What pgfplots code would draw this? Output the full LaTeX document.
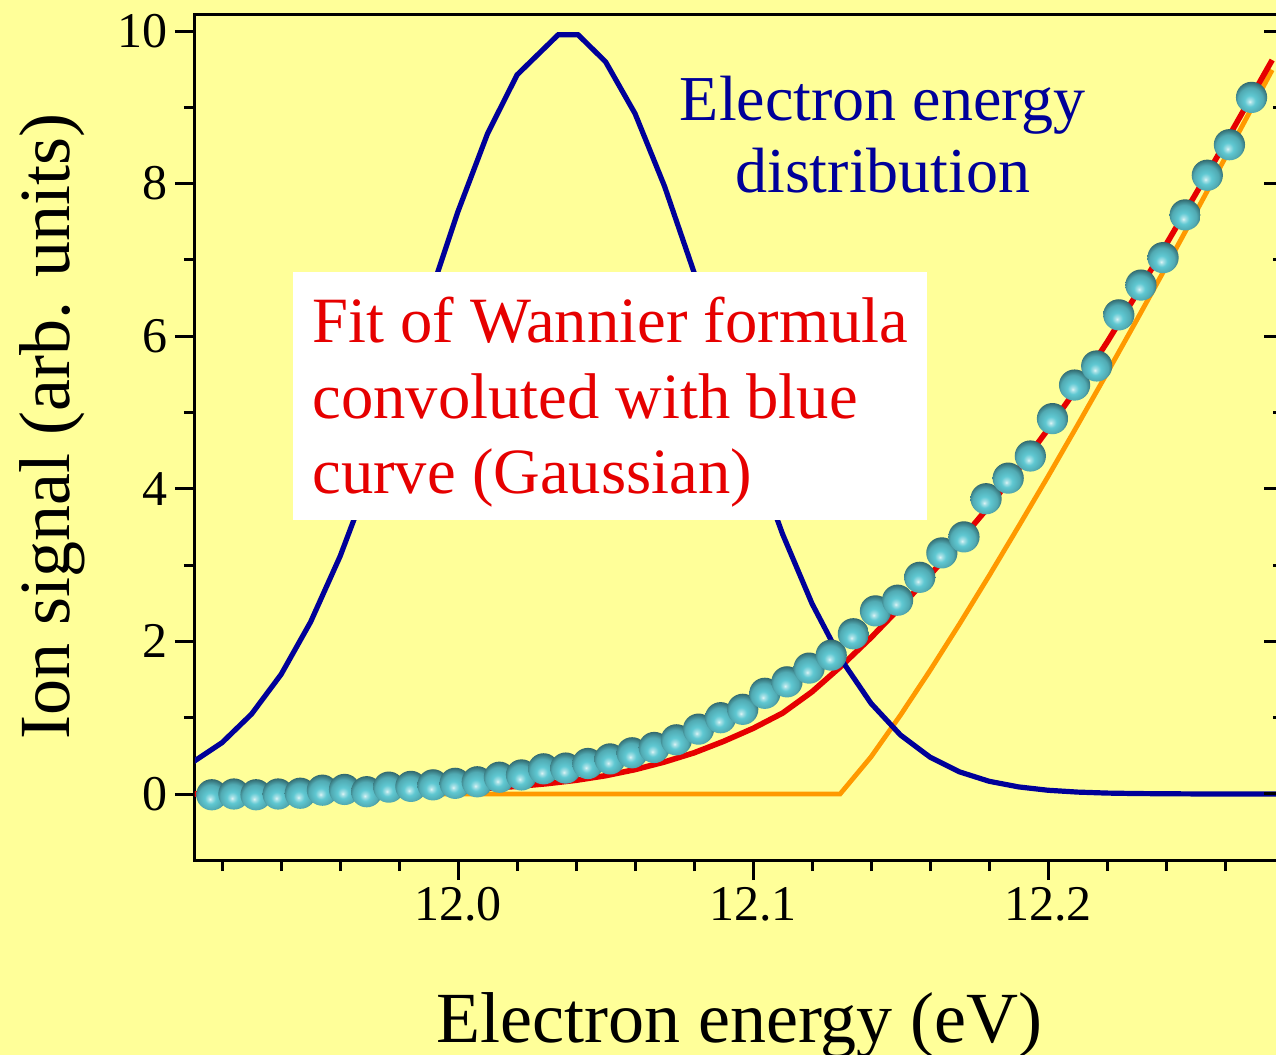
\documentclass[border=0pt]{standalone}
\usepackage{pgfplots}
\usepackage{pgfplotstable}
\pgfplotsset{compat=1.18}
\usepackage{fontspec}
\setmainfont{Liberation Serif}
\definecolor{bgc}{RGB}{255,255,153}
\definecolor{bluec}{RGB}{0,0,153}
\definecolor{redc}{RGB}{230,0,0}
\definecolor{orangec}{RGB}{255,153,0}
\definecolor{ballc}{RGB}{95,200,210}
\pagecolor{bgc}
\makeatletter
\pgfdeclareradialshading[tikz@ball]{ball}{\pgfqpoint{-3bp}{-7bp}}{%
 color(0bp)=(tikz@ball!20!white);
 color(3bp)=(tikz@ball!55!white);
 color(9bp)=(tikz@ball);
 color(20bp)=(tikz@ball!85!black);
 color(30bp)=(tikz@ball!45!black);
 color(50bp)=(tikz@ball!30!black)}
\makeatother

\pgfplotstableread{
x y
11.91 0.416
11.92 0.674
11.93 1.049
11.94 1.568
11.95 2.255
11.96 3.116
11.97 4.138
11.98 5.282
11.99 6.480
12.00 7.639
12.01 8.657
12.02 9.426
12.0339 9.95
12.0407 9.95
12.05 9.597
12.06 8.917
12.07 7.964
12.08 6.836
12.09 5.639
12.10 4.471
12.11 3.407
12.12 2.494
12.13 1.756
12.14 1.188
12.15 0.772
12.16 0.483
12.17 0.290
12.18 0.167
12.19 0.093
12.20 0.049
12.21 0.025
12.22 0.012
12.23 0.006
12.24 0.003
12.25 0.001
12.26 0.000
12.27 0.000
12.28 0.000
}\bluedata

\pgfplotstableread{
x y
11.91 0
12.1295 0
12.14 0.487
12.15 1.035
12.16 1.619
12.17 2.229
12.18 2.859
12.19 3.506
12.20 4.162
12.21 4.834
12.22 5.516
12.23 6.207
12.24 6.908
12.25 7.617
12.26 8.334
12.27 9.056
12.276 9.49
}\orangedata

\pgfplotstableread{
x y
11.91 0.00
11.93 0.005
11.95 0.01
11.97 0.02
11.99 0.04
12.00 0.055
12.01 0.075
12.02 0.10
12.03 0.135
12.04 0.18
12.05 0.24
12.06 0.32
12.07 0.42
12.08 0.54
12.09 0.69
12.10 0.86
12.11 1.06
12.12 1.34
12.13 1.68
12.14 2.05
12.15 2.45
12.16 2.87
12.17 3.31
12.18 3.77
12.19 4.26
12.20 4.78
12.21 5.33
12.22 5.92
12.23 6.55
12.24 7.20
12.25 7.86
12.26 8.53
12.27 9.21
12.276 9.62
}\reddata

\pgfplotstableread{
x y
11.9165 -0.01
11.9240 0.00
11.9315 -0.01
11.9390 0.00
11.9465 0.01
11.9540 0.05
11.9615 0.06
11.9690 0.03
11.9765 0.09
11.9840 0.10
11.9915 0.12
11.9990 0.14
12.0065 0.16
12.0140 0.22
12.0215 0.25
12.0290 0.33
12.0365 0.34
12.0440 0.40
12.0515 0.46
12.0590 0.54
12.0665 0.61
12.0740 0.71
12.0815 0.85
12.0890 1.00
12.0965 1.11
12.1040 1.32
12.1115 1.47
12.1190 1.65
12.1265 1.82
12.1340 2.10
12.1415 2.40
12.1490 2.54
12.1565 2.84
12.1640 3.16
12.1715 3.37
12.1790 3.87
12.1865 4.14
12.1940 4.43
12.2015 4.92
12.2090 5.36
12.2165 5.61
12.2240 6.28
12.2315 6.67
12.2390 7.03
12.2465 7.59
12.2540 8.11
12.2615 8.51
12.2690 9.13
}\balldata

\begin{document}
\begin{tikzpicture}
\begin{axis}[name=main,
  scale only axis, width=544.5pt, height=422.5pt,
  xmin=11.9108, xmax=12.28, ymin=-0.865, ymax=10.21,
  axis line style={line width=1.5pt, black},
  tick style={line width=1.5pt, black},
  tick align=outside, xtick pos=left, ytick pos=left,
  major tick length=10pt, minor tick length=5.5pt,
  xtick={12.0,12.1,12.2},
  minor xtick={11.92,11.94,11.96,11.98,12.02,12.04,12.06,12.08,12.12,12.14,12.16,12.18,12.22,12.24,12.26},
  ytick={0,2,4,6,8,10},
  minor ytick={1,3,5,7,9},
  xticklabel style={/pgf/number format/fixed,/pgf/number format/fixed zerofill,/pgf/number format/precision=1},
  /pgf/number format/assume math mode=true,
  ticklabel style={font=\fontsize{25}{30}\selectfont},
  xlabel={Electron energy (eV)},
  ylabel={Ion signal (arb. units)},
  every axis x label/.style={at={(axis description cs:0.5,-0.2154)}, anchor=base, font=\fontsize{36}{43}\selectfont},
  every axis y label/.style={at={(axis description cs:-0.1148,0.513)}, rotate=90, anchor=base, font=\fontsize{36}{43}\selectfont},
]
\addplot[orangec, line width=2.4pt, no markers] table[x=x,y=y] {\orangedata};
\addplot[only marks, mark=ball, mark size=7.8pt, mark options={ball color=ballc, draw opacity=0}, ball color=ballc] table[x=x,y=y] {\balldata};
\addplot[redc, line width=2.8pt, no markers] table[x=x,y=y] {\reddata};
\addplot[bluec, line width=2.6pt, no markers] table[x=x,y=y] {\bluedata};
\fill[white] (axis cs:11.9441,3.591) rectangle (axis cs:12.159,6.841);
\node[anchor=base, text=bluec, font=\fontsize{32}{38}\selectfont, inner sep=0pt] at (axis cs:12.144,8.833) {Electron energy};
\node[anchor=base, text=bluec, font=\fontsize{32}{38}\selectfont, inner sep=0pt] at (axis cs:12.144,7.877) {distribution};
\node[anchor=base west, text=redc, font=\fontsize{32.3}{38}\selectfont, inner sep=0pt] at (axis cs:11.9505,5.924) {Fit of Wannier formula};
\node[anchor=base west, text=redc, font=\fontsize{32.3}{38}\selectfont, inner sep=0pt] at (axis cs:11.9505,4.928) {convoluted with blue};
\node[anchor=base west, text=redc, font=\fontsize{32.3}{38}\selectfont, inner sep=0pt] at (axis cs:11.9505,3.945) {curve (Gaussian)};
\end{axis}
\begin{axis}[
  scale only axis, width=544.5pt, height=422.5pt,
  xmin=11.9108, xmax=12.28, ymin=-0.865, ymax=10.21,
  axis line style={draw=none},
  tick style={line width=1.5pt, black},
  tick align=inside, xtick pos=right, ytick pos=right,
  major tick length=10pt, minor tick length=5.5pt,
  xtick=\empty,
  minor xtick={11.92,11.94,11.96,11.98,12.0,12.02,12.04,12.06,12.08,12.1,12.12,12.14,12.16,12.18,12.2,12.22,12.24,12.26},
  ytick={0,2,4,6,8,10},
  minor ytick={1,3,5,7,9},
  xticklabels={}, yticklabels={},
]
\end{axis}
\pgfresetboundingbox
\path[use as bounding box] ([xshift=-97.5pt,yshift=-97.5pt]main.south west) rectangle ([xshift=-4pt,yshift=7.5pt]main.north east);
\end{tikzpicture}
\end{document}
